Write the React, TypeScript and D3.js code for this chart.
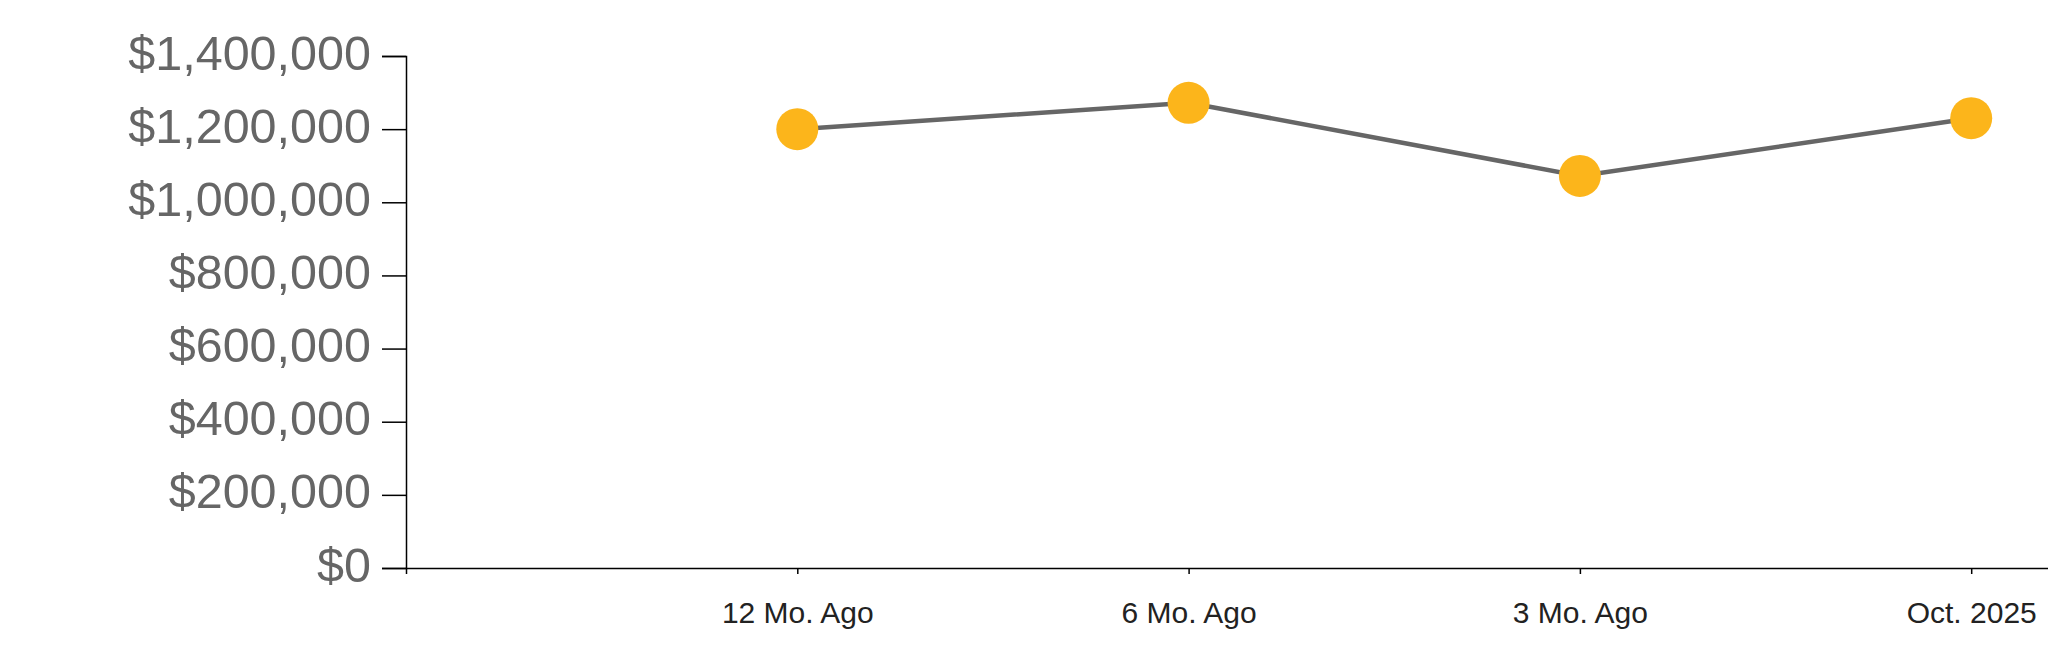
import React, { useEffect, useRef } from "react";
import * as d3 from "d3";

const categories = ["12 Mo. Ago", "6 Mo. Ago", "3 Mo. Ago", "Oct. 2025"];
const values = [1200000, 1272000, 1072000, 1230000];
const yTicks = [0, 200000, 400000, 600000, 800000, 1000000, 1200000, 1400000];

const W = 2048;
const H = 663;
const left = 406;
const step = 391.3;
const y0 = 568;
const yTop = 56;

export default function App() {
  const ref = useRef<SVGSVGElement | null>(null);

  useEffect(() => {
    const svg = d3.select(ref.current);
    svg.selectAll("*").remove();

    const x = d3.scalePoint<string>().domain(categories).range([left, left + step * 5]).padding(1);
    const y = d3.scaleLinear().domain([0, 1400000]).range([y0, yTop]);

    const fmt = (v: number) => "$" + d3.format(",")(v);

    const gy = svg.append("g").attr("transform", `translate(${left},0)`)
      .call(d3.axisLeft(y).tickValues(yTicks).tickFormat(fmt as any).tickSize(24).tickPadding(11));
    gy.selectAll("path, line").attr("stroke", "#000").attr("stroke-width", 1.5);
    gy.selectAll("text")
      .attr("dy", "0.27em")
      .attr("fill", "#666")
      .style("font-family", "'Liberation Sans', Arial, sans-serif")
      .style("font-size", "48.5px");

    const gx = svg.append("g").attr("transform", `translate(0,${y0})`)
      .call(d3.axisBottom(x).tickSize(6).tickPadding(0));
    gx.selectAll("path, line").attr("stroke", "#000").attr("stroke-width", 1.5);
    gx.selectAll("text")
      .attr("y", 54.5)
      .attr("dy", "0")
      .attr("fill", "#222")
      .style("font-family", "'Liberation Sans', Arial, sans-serif")
      .style("font-size", "30px");

    const line = d3.line<number>()
      .x((_, i) => x(categories[i]) as number)
      .y((d) => y(d));

    svg.append("path")
      .datum(values)
      .attr("d", line)
      .attr("fill", "none")
      .attr("stroke", "#666")
      .attr("stroke-width", 4.5);

    svg.append("g").selectAll("circle")
      .data(values)
      .join("circle")
      .attr("cx", (_, i) => x(categories[i]) as number)
      .attr("cy", (d) => y(d))
      .attr("r", 21)
      .attr("fill", "#FCB51B");
  }, []);

  return (
    <svg
      ref={ref}
      width={W}
      height={H}
      style={{ position: "fixed", left: 0, top: 0, display: "block", background: "#fff" }}
    />
  );
}
